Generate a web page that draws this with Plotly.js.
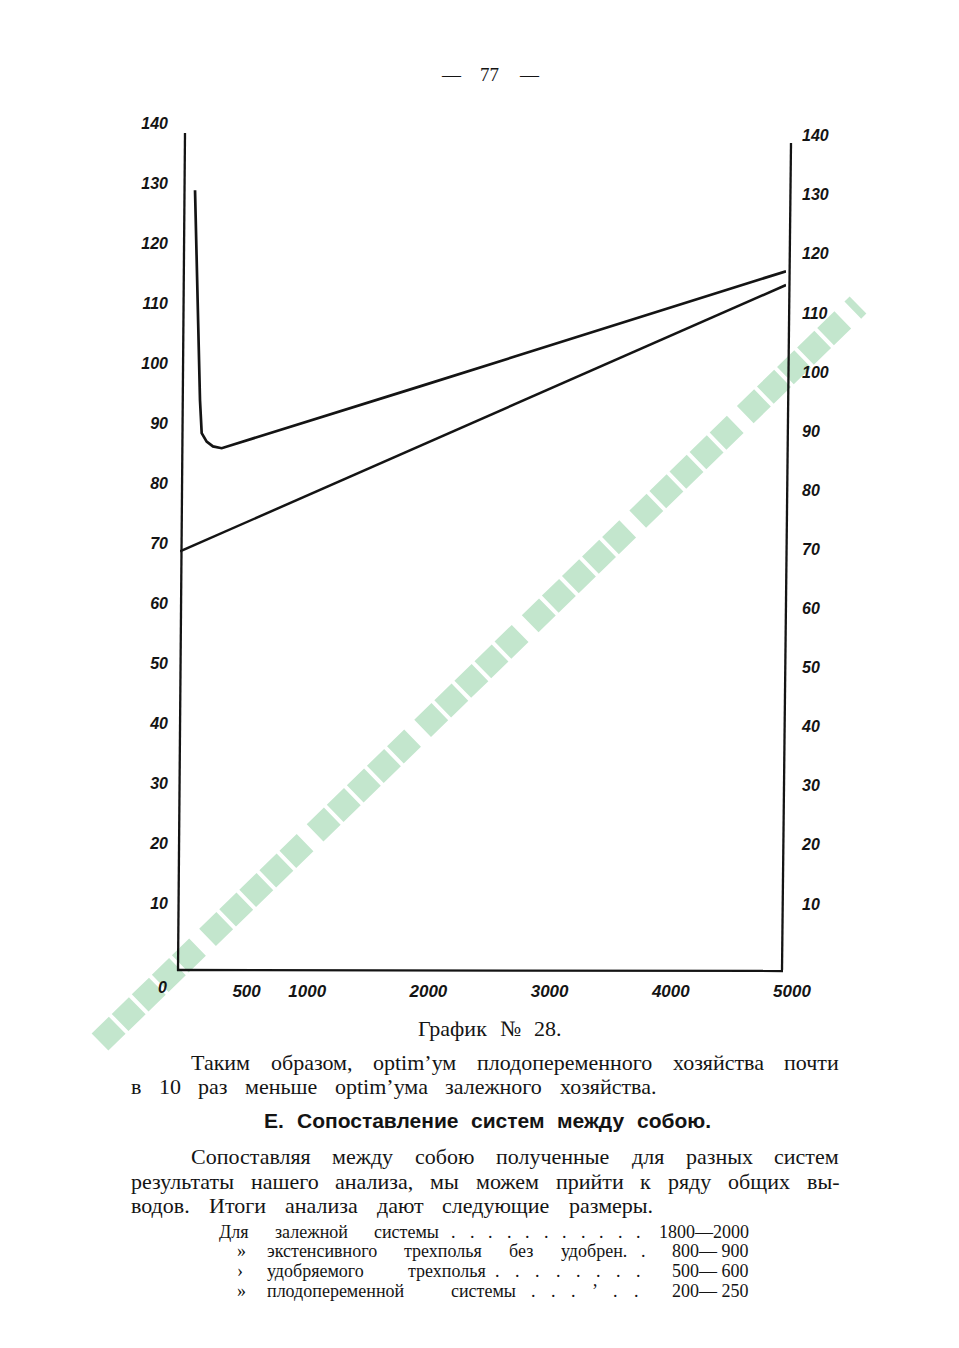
<!DOCTYPE html>
<html>
<head>
<meta charset="utf-8">
<script src="https://cdn.plot.ly/plotly-3.0.1.min.js"></script>
<style>
  html, body { margin: 0; padding: 0; background: #ffffff; }
  #chart { width: 959px; height: 1348px; }
</style>
</head>
<body>
<div id="chart"></div>
<script>
// ---- data ----
const upperX = [124, 146, 165, 179, 220, 272, 344, 1980, 3903, 4728, 5000];
const upperY = [128.8, 110.5, 93.8, 88.3, 86.9, 86.1, 85.8, 96.1, 108.3, 113.6, 115.3];
const lowerX = [0, 2393, 3905, 5000];
const lowerY = [68.6, 89.9, 103.3, 113.0];

const xTickVals = [500, 1000, 2000, 3000, 4000, 5000];
const xTickText = ['500', '1000', '2000', '3000', '4000', '5000'];
const xOriginLabel = '0';
const yTickVals = [10, 20, 30, 40, 50, 60, 70, 80, 90, 100, 110, 120, 130, 140];
const yTickText = ['10', '20', '30', '40', '50', '60', '70', '80', '90', '100', '110', '120', '130', '140'];

const pageNumber = '— 77 —';
const caption = 'График № 28.';
const para1 = [
  'Таким образом, optim\u2019ум плодопеременного хозяйства почти',
  'в 10 раз меньше optim\u2019ума залежного хозяйства.'
];
const heading = 'Е. Сопоставление систем между собою.';
const para2 = [
  'Сопоставляя между собою полученные для разных систем',
  'результаты нашего анализа, мы можем прийти к ряду общих вы-',
  'водов. Итоги анализа дают следующие размеры.'
];
const tableMarks = ['', '»', '›', '»'];
const tableNames = [
  'Для залежной системы',
  'экстенсивного трехполья без удобрен.',
  'удобряемого трехполья',
  'плодопеременной системы'
];
const tableLeaders = [
  '. . . . . . . . . . .',
  '.',
  '. . . . . . . .',
  '. . . \u2019 . .'
];
const tableValues = ['1800—2000', '800— 900', '500— 600', '200— 250'];

// ---- layout geometry (pixels) ----
const W = 959, H = 1348;
const PL = 180, PR = 786, PT = 122, PB = 970;
const px = v => (v - PL) / (PR - PL);
const py = v => (PB - v) / (PB - PT);

const ink = '#141414';
const serif = 'Liberation Serif, DejaVu Serif, serif';
const handFont = {family: 'Liberation Sans, Arial, sans-serif', size: 16, color: ink, weight: 'bold', style: 'italic'};

const canvas = document.createElement('canvas');
const ctx = canvas.getContext('2d');
function measure(text, size, family, weight) {
  ctx.font = (weight || 'normal') + ' ' + size + 'px ' + family;
  return ctx.measureText(text).width;
}

const annotations = [];
function addText(text, x, y, size, opts) {
  opts = opts || {};
  annotations.push({
    text: text, xref: 'paper', yref: 'paper', x: px(x), y: py(y),
    xanchor: opts.anchor || 'left', yanchor: 'middle', showarrow: false,
    borderpad: 0,
    font: {family: opts.family || serif, size: size, color: ink, weight: opts.weight || 'normal'}
  });
}
function justify(line, left, right, y, size, family, weight) {
  const words = line.split(' ');
  const widths = words.map(w => measure(w, size, family, weight));
  const total = widths.reduce((a, b) => a + b, 0);
  const gap = words.length > 1 ? (right - left - total) / (words.length - 1) : 0;
  let x = left;
  words.forEach((w, i) => {
    addText(w, x, y, size, {family: family, weight: weight});
    x += widths[i] + gap;
  });
}

// page texts
justify(pageNumber, 440, 537, 75, 19, serif);
justify(caption, 417, 560, 1028, 22, serif);
justify(para1[0], 190, 838, 1062, 22, serif);
justify(para1[1], 130, 655, 1086, 22, serif);
const headFam = 'Liberation Sans Narrow, Liberation Sans, Arial, sans-serif';
justify(heading, 263, 710, 1120, 21, headFam, 'bold');
justify(para2[0], 190, 838, 1156, 22, serif);
justify(para2[1], 130, 838, 1181, 22, serif);
justify(para2[2], 130, 652, 1205, 22, serif);

const rowY = [1232, 1251, 1271, 1291];
const nameSpan = [[218, 438], [266, 626], [266, 485], [266, 515]];
const leaderSpan = [[450, 640], [640, 640], [494, 640], [530, 637]];
tableNames.forEach((name, i) => {
  if (tableMarks[i]) addText(tableMarks[i], 236, rowY[i], 18);
  justify(name, nameSpan[i][0], nameSpan[i][1], rowY[i], 18, serif);
  justify(tableLeaders[i], leaderSpan[i][0], leaderSpan[i][1], rowY[i], 18, serif);
  addText(tableValues[i], 750, rowY[i], 18, {anchor: 'right'});
});

// origin label
annotations.push({
  text: xOriginLabel, xref: 'x', yref: 'paper', x: 0, y: py(987),
  xshift: -18, xanchor: 'center', yanchor: 'middle', showarrow: false,
  font: handFont
});

const traces = [
  {x: upperX, y: upperY, mode: 'lines', line: {color: ink, width: 2.7}, hoverinfo: 'skip', showlegend: false},
  {x: lowerX, y: lowerY, mode: 'lines', line: {color: ink, width: 2.5}, hoverinfo: 'skip', showlegend: false},
  {x: [], y: [], yaxis: 'y2', mode: 'lines', hoverinfo: 'skip', showlegend: false}
];

const axisLine = {color: ink, width: 2.3};
const layout = {
  width: W, height: H,
  margin: {l: PL, r: W - PR, t: PT, b: H - PB, pad: 0},
  paper_bgcolor: '#ffffff', plot_bgcolor: 'rgba(0,0,0,0)',
  showlegend: false,
  xaxis: {
    range: [0, 5000], showgrid: false, zeroline: false, showline: false,
    ticks: '', tickvals: xTickVals, ticktext: xTickText,
    tickfont: Object.assign({}, handFont, {size: 17}),
    ticklabelshift: 6, ticklabelstandoff: 9
  },
  yaxis: {
    range: [-1.17, 140.17], showgrid: false, zeroline: false, showline: false,
    ticks: '', tickvals: yTickVals, ticktext: yTickText,
    tickfont: handFont, ticklabelstandoff: 11
  },
  yaxis2: {
    overlaying: 'y', side: 'right', anchor: 'x',
    range: [-1.18, 142.3], showgrid: false, zeroline: false, showline: false,
    ticks: '', tickvals: yTickVals, ticktext: yTickText,
    tickfont: handFont, ticklabelstandoff: 15
  },
  shapes: [
    {
      type: 'line', xref: 'paper', yref: 'paper', layer: 'below',
      x0: px(100), y0: py(1042), x1: px(858), y1: py(305),
      line: {color: '#c3e6cd', width: 24, dash: '24px,4px,24px,4px,24px,4px,24px,4px,24px,14px'}
    },
    // hand-drawn frame lines (slightly slanted as in the original)
    {type: 'line', xref: 'paper', yref: 'paper', x0: px(178), y0: py(971), x1: px(185), y1: py(133), line: axisLine},
    {type: 'line', xref: 'paper', yref: 'paper', x0: px(782), y0: py(970), x1: px(791), y1: py(143), line: axisLine},
    {type: 'line', xref: 'paper', yref: 'paper', x0: px(177), y0: py(970), x1: px(783), y1: py(971), line: axisLine}
  ],
  annotations: annotations
};

Plotly.newPlot('chart', traces, layout, {staticPlot: true, displayModeBar: false});
</script>
</body>
</html>
